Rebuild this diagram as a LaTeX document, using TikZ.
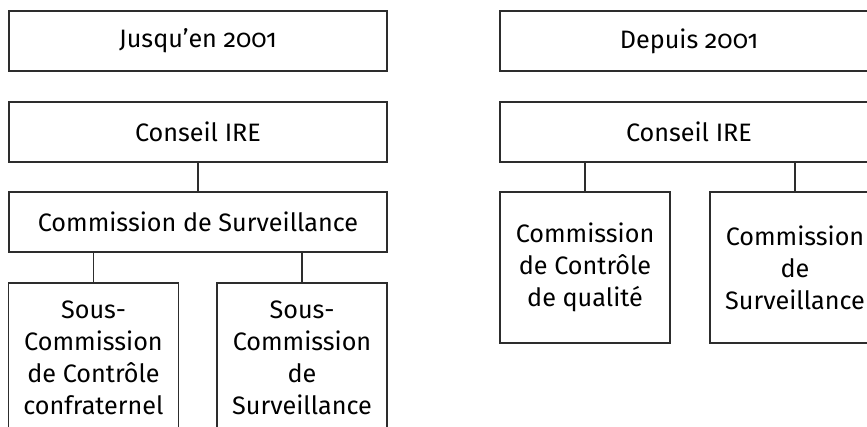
\documentclass[tikz,border=0pt]{standalone}
\usepackage{fontspec}
\setmainfont{Fira Sans}[Numbers=OldStyle]
\usepackage{tikz}
\usetikzlibrary{positioning}
\definecolor{clrLine}{RGB}{45,45,45}
\tikzset{
  box/.style={rectangle,draw=clrLine,line width=0.65pt,fill=white,
    font=\fontsize{12.6bp}{16bp}\selectfont,align=center,inner sep=2pt},
  widebox/.style={box,minimum width=189bp,minimum height=30bp},
  tallbox/.style={box,minimum width=85bp},
  link/.style={draw=clrLine,line width=0.65pt}
}
\begin{document}
\begin{tikzpicture}[x=0.5bp,y=-0.5bp]
  \useasboundingbox (0,0) rectangle (867,427);
  \clip (0,0) rectangle (867,427);

  % Jusqu'en 2001
  \node[widebox] (hdrA) at (198,41) {Jusqu'en 2001};
  \node[widebox] (confA) at (198,132) {Conseil IRE};
  \node[widebox] (survA) at (198,222) {Commission de Surveillance};
  \node[tallbox,minimum height=75bp] (ssA1) at (93.5,358)
    {Sous-\\Commission\\de Contrôle\\confraternel};
  \node[tallbox,minimum height=75bp] (ssA2) at (302,358)
    {Sous-\\Commission\\de\\Surveillance};

  \draw[link] (confA) -- (survA);
  \draw[link] (ssA1.north) -- (ssA1.north |- survA.south);
  \draw[link] (ssA2.north) -- (ssA2.north |- survA.south);

  % Depuis 2001
  \node[widebox] (hdrB) at (689,41) {Depuis 2001};
  \node[widebox] (confB) at (689,132) {Conseil IRE};
  \node[tallbox,minimum height=75.5bp] (cqB) at (585,267.5)
    {Commission\\de Contrôle\\de qualité};
  \node[tallbox,minimum height=75.5bp] (survB) at (795,267.5)
    {Commission\\de\\Surveillance};

  \draw[link] (cqB.north) -- (cqB.north |- confB.south);
  \draw[link] (survB.north) -- (survB.north |- confB.south);
\end{tikzpicture}
\end{document}
